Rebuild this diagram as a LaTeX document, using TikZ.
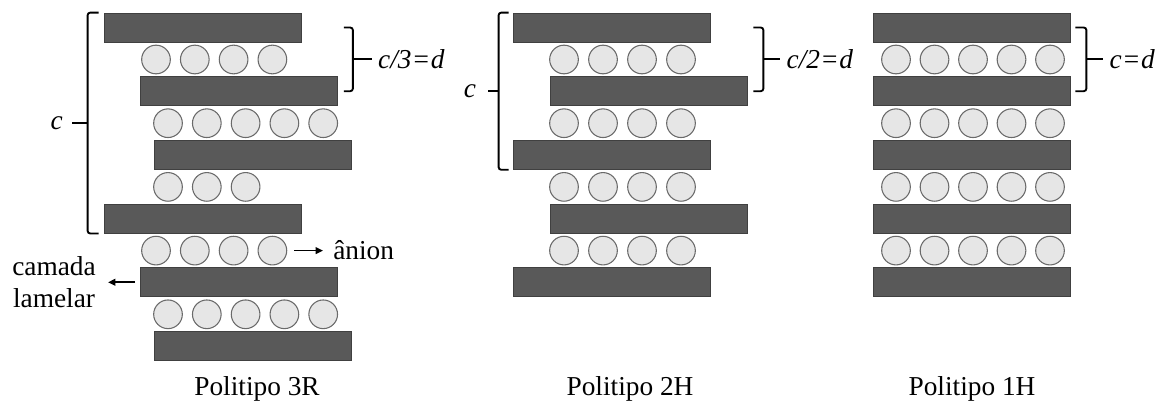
\documentclass[tikz,border=0pt]{standalone}
\usepackage{fontspec}
\setmainfont{Liberation Serif}
\usetikzlibrary{calc,arrows.meta}

\definecolor{lamelacor}{HTML}{595959}
\definecolor{lamelaborda}{HTML}{404040}
\definecolor{anioncor}{HTML}{E6E6E6}
\definecolor{anionborda}{HTML}{6A6A6A}

\tikzset{
  lamela/.style={draw=lamelaborda, fill=lamelacor, line width=0.6pt,
    minimum width=147.75pt, minimum height=21.75pt, inner sep=0pt},
  anion/.style={circle, draw=anionborda, fill=anioncor, line width=0.8pt,
    minimum size=21.5pt, inner sep=0pt},
  chave/.style={line width=1.4pt, rounded corners=2pt},
  seta/.style={-{Triangle[length=5.5pt,width=5pt]}, line width=1.3pt},
  rotulo/.style={font=\fontsize{20.5}{23.5}\selectfont, inner sep=0pt},
}

\begin{document}
\begin{tikzpicture}[x=0.75pt, y=-0.75pt]
  \useasboundingbox (0,0) rectangle (1163,403);

  % politipo 3R: lamelas
  \node[lamela] (r1) at (202.5,27.5) {};
  \node[lamela] (r2) at (239,91.2) {};
  \node[lamela] (r3) at (253,154.9) {};
  \node[lamela] (r4) at (202.5,218.6) {};
  \node[lamela] (r5) at (239,282.3) {};
  \node[lamela] (r6) at (253,346) {};
  % anions entre as lamelas
  \foreach \i in {1,...,4} \node[anion] (ra1-\i) at ({117.2+38.8*\i},59.5) {};
  \foreach \i in {1,...,5} \node[anion] (ra2-\i) at ({129.2+38.8*\i},123.2) {};
  \foreach \i in {1,...,3} \node[anion] (ra3-\i) at ({129.2+38.8*\i},186.9) {};
  \foreach \i in {1,...,4} \node[anion] (ra4-\i) at ({117.2+38.8*\i},250.6) {};
  \foreach \i in {1,...,5} \node[anion] (ra5-\i) at ({129.2+38.8*\i},314.3) {};

  % chave c
  \coordinate (rc1) at ($(r1.north west)+(-5,0)$);
  \coordinate (rc2) at ($(r4.south west)+(-5,0)$);
  \draw[chave] (rc1) -- ++(-11,0) |- (rc2);
  \coordinate (rc3) at ($(rc1)!.5!(rc2)+(-11,0)$);
  \draw[chave] (rc3) -- ++(-16,0) node[rotulo, left=6pt] (rc) {\textit{c}};

  % chave d
  \coordinate (rd2) at ($(r2.east)+(6,0)$);
  \coordinate (rd1) at (rd2 |- r1.center);
  \draw[chave] (rd1) -- ++(9,0) |- (rd2);
  \coordinate (rd3) at ($(rd1)!.5!(rd2)+(9,0)$);
  \draw[chave] (rd3) -- ++(19,0) node[rotulo, right=4pt] (rd) {\textit{c/3}\kern1.5pt=\kern1.5pt\textit{d}};

  % legendas
  \node[rotulo, anchor=west] (anion) at (333,250.6) {ânion};
  \draw[seta, shorten >=7.5pt] ($(ra4-4.east)+(7,0)$) -- (anion);
  \node[rotulo, anchor=east, align=center] (camada) at (96,282.3) {camada\\lamelar};
  \draw[seta, shorten >=9pt] ($(r5.west)+(-5,0)$) -- (camada);

  % politipo 2H
  \node[lamela] (h1) at (611.5,27.5) {};
  \node[lamela] (h2) at (648.5,91.2) {};
  \node[lamela] (h3) at (611.5,154.9) {};
  \node[lamela] (h4) at (648.5,218.6) {};
  \node[lamela] (h5) at (611.5,282.3) {};
  \foreach \j/\y in {1/59.5,2/123.2,3/186.9,4/250.6}
    \foreach \i in {1,...,4} \node[anion] (ha\j-\i) at ({525+39*\i},\y) {};

  \coordinate (hc1) at ($(h1.north west)+(-4,0)$);
  \coordinate (hc2) at ($(h3.south west)+(-4,0)$);
  \draw[chave] (hc1) -- ++(-10,0) |- (hc2);
  \coordinate (hc3) at ($(hc1)!.5!(hc2)+(-10,0)$);
  \draw[chave] (hc3) -- ++(-11,0) node[rotulo, left=8pt] (hc) {\textit{c}};

  \coordinate (hd2) at ($(h2.east)+(6,0)$);
  \coordinate (hd1) at (hd2 |- h1.center);
  \draw[chave] (hd1) -- ++(10,0) |- (hd2);
  \coordinate (hd3) at ($(hd1)!.5!(hd2)+(10,0)$);
  \draw[chave] (hd3) -- ++(17,0) node[rotulo, right=4pt] (hd) {\textit{c/2}\kern1.5pt=\kern1.5pt\textit{d}};

  % politipo 1H
  \node[lamela] (u1) at (971.5,27.5) {};
  \node[lamela] (u2) at (971.5,91.2) {};
  \node[lamela] (u3) at (971.5,154.9) {};
  \node[lamela] (u4) at (971.5,218.6) {};
  \node[lamela] (u5) at (971.5,282.3) {};
  \foreach \j/\y in {1/59.5,2/123.2,3/186.9,4/250.6}
    \foreach \i in {1,...,5} \node[anion] (ua\j-\i) at ({857.5+38.5*\i},\y) {};

  \coordinate (ud2) at ($(u2.east)+(5,0)$);
  \coordinate (ud1) at (ud2 |- u1.center);
  \draw[chave] (ud1) -- ++(11,0) |- (ud2);
  \coordinate (ud3) at ($(ud1)!.5!(ud2)+(11,0)$);
  \draw[chave] (ud3) -- ++(17,0) node[rotulo, right=4pt] (ud) {\textit{c}\kern1.5pt=\kern1.5pt\textit{d}};

  % titulos
  \node[rotulo] (t3r) at (257,389) {Politipo 3R};
  \node[rotulo] (t2h) at (630,389) {Politipo 2H};
  \node[rotulo] (t1h) at (972,389) {Politipo 1H};
\end{tikzpicture}
\end{document}
